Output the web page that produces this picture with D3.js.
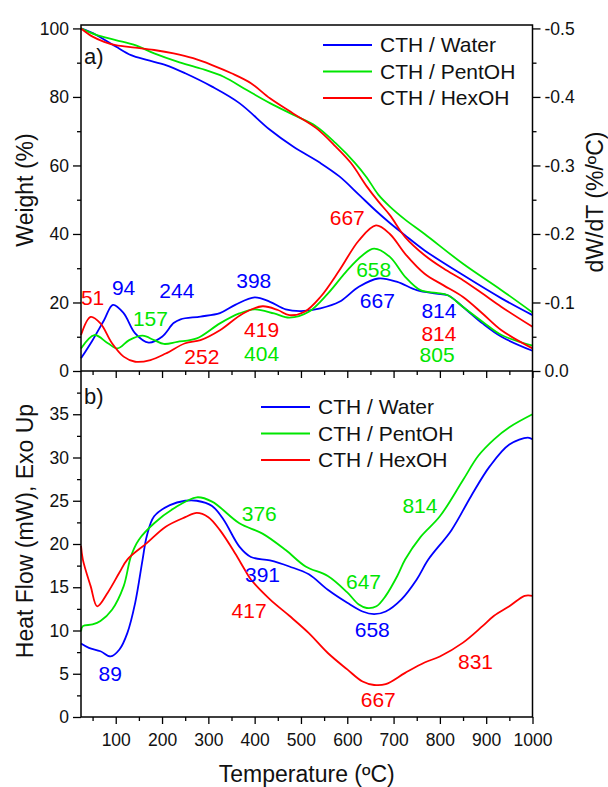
<!DOCTYPE html>
<html><head><meta charset="utf-8">
<script src="https://cdn.jsdelivr.net/npm/d3@7/dist/d3.min.js"></script>
<style>
body{margin:0;background:#fff}
svg{display:block}
text{font-family:"Liberation Sans",Arial,Helvetica,sans-serif;fill:#111}
</style>
</head><body>
<svg id="chart" width="608" height="787"></svg>
<script>
// ---- Series names and colours ----
const seriesNames = ["CTH / Water", "CTH / PentOH", "CTH / HexOH"];
const seriesColors = ["#0000ff", "#00e600", "#ff0000"];

// ---- TG: weight (%) vs temperature (°C) ----
const tgWater = [[25,100],[58,98.1],[100,94.7],[133,92.2],[167,90.8],[208,89.3],[250,86.9],[308,83],[367,78.2],[433,70.4],[483,65.5],[542,60.7],[583,56.8],[625,51.5],[660,47],[692,43.2],[725,39.6],[767,35.2],[850,28],[933,21.2],[1000,16.3]];
const tgPentOH = [[25,100],[58,98.1],[100,96.6],[142,95.1],[183,92.7],[233,90.3],[283,88.3],[333,85.9],[383,82],[433,78.2],[483,74.8],[533,71.4],[575,66.5],[617,60.7],[642,56.5],[667,51.5],[692,48],[725,44.2],[767,40],[850,31.3],[933,23.6],[1000,17.1]];
const tgHexOH = [[25,100],[50,97.6],[75,96.1],[100,95.1],[142,94.4],[183,93.7],[225,92.7],[267,91.3],[308,89.3],[350,86.9],[392,84],[433,79.6],[483,75.2],[533,70.9],[575,65.5],[608,60.7],[642,53.9],[667,49.5],[692,45.5],[725,39.1],[767,33.8],[808,29.9],[850,26.5],[892,22.6],[933,18.7],[1000,12.9]];

// ---- DTG: dW/dT (%/°C) vs temperature (°C) ----
const dtgWater = [[25,-0.0185],[50,-0.045],[75,-0.0745],[94,-0.0965],[117,-0.0845],[142,-0.055],[171,-0.0415],[200,-0.05],[225,-0.07],[240,-0.0755],[283,-0.0795],[325,-0.0845],[358,-0.0965],[400,-0.1075],[433,-0.101],[467,-0.09],[500,-0.0875],[542,-0.0915],[583,-0.101],[625,-0.123],[667,-0.135],[708,-0.13],[750,-0.118],[792,-0.113],[817,-0.1105],[850,-0.0935],[892,-0.0695],[933,-0.05],[1000,-0.0295]];
const dtgPentOH = [[25,-0.033],[54,-0.0525],[83,-0.0405],[104,-0.033],[129,-0.045],[158,-0.0515],[183,-0.045],[204,-0.0395],[233,-0.0425],[275,-0.0475],[325,-0.0695],[367,-0.084],[400,-0.09],[442,-0.084],[475,-0.078],[517,-0.0865],[558,-0.113],[600,-0.147],[633,-0.169],[658,-0.1785],[692,-0.1665],[725,-0.1375],[758,-0.118],[792,-0.114],[817,-0.1105],[850,-0.0935],[892,-0.072],[933,-0.0525],[1000,-0.037]];
const dtgHexOH = [[25,-0.0525],[46,-0.079],[67,-0.0695],[92,-0.0405],[117,-0.021],[142,-0.0135],[175,-0.016],[208,-0.0255],[250,-0.0405],[283,-0.045],[325,-0.0595],[375,-0.084],[417,-0.0945],[450,-0.089],[475,-0.0815],[508,-0.0865],[542,-0.108],[583,-0.147],[625,-0.1905],[662,-0.2125],[692,-0.2],[725,-0.171],[767,-0.142],[808,-0.125],[850,-0.108],[892,-0.084],[933,-0.0595],[1000,-0.033]];

// ---- DSC: heat flow (mW), exo up ----
const dscWater = [[25,8.5],[42,8],[67,7.6],[89,7],[108,7.8],[125,9.7],[142,13.2],[158,18.2],[167,20.9],[183,23.2],[217,24.5],[250,25],[275,25],[308,24.4],[333,22.8],[367,19.7],[392,18.5],[433,18.1],[475,17.4],[517,16.5],[558,14.7],[600,13.2],[633,12.2],[658,11.9],[683,12.2],[717,13.6],[750,15.9],[775,18.2],[825,21.6],[867,25.5],[908,29],[950,31.5],[990,32.3],[1000,32.1]];
const dscPentOH = [[25,9.9],[29,10.5],[50,10.7],[67,11.1],[92,12.4],[117,15.1],[133,18.6],[150,20.5],[183,22.4],[225,24.1],[275,25.4],[308,24.9],[367,22.4],[417,21.2],[467,19.3],[510,17.4],[558,16.3],[600,14.4],[625,13],[642,12.6],[663,12.8],[683,14],[708,16.3],[725,18.2],[758,20.8],[800,23.2],[850,27.4],[883,30.2],[917,32.1],[950,33.5],[1000,35]];
const dscHexOH = [[25,19.8],[29,18.2],[46,15.1],[60,12.8],[83,14.4],[108,16.7],[125,18.2],[167,20.1],[208,22],[250,23.1],[275,23.6],[300,23.1],[325,21.6],[358,18.9],[379,17],[392,15.9],[433,13.6],[475,11.7],[517,9.7],[558,7.4],[600,5.5],[633,4.1],[658,3.7],[683,3.8],[725,5.1],[767,6.3],[800,7],[850,8.6],[892,10.5],[917,11.7],[950,12.8],[983,14],[1000,14]];

// ---- Tick values ----
const xTicks = [100,200,300,400,500,600,700,800,900,1000];
const xMinor = [50,150,250,350,450,550,650,750,850,950];
const wTicks = [0,20,40,60,80,100];
const wMinor = [10,30,50,70,90];
const dTicks = [0,-0.1,-0.2,-0.3,-0.4,-0.5];
const dMinor = [-0.05,-0.15,-0.25,-0.35,-0.45];
const hTicks = [0,5,10,15,20,25,30,35];
const hMinor = [2.5,7.5,12.5,17.5,22.5,27.5,32.5,37.5];

// ---- Peak annotations: [text, temperature, value on the panel's left axis, series index] ----
const tgLabels = [["51",50,19.2,2],["94",117,22.1,0],["244",232,21.2,0],["157",175,13.2,1],["398",398,24.1,0],["419",415,9.8,2],["252",286,2,2],["404",415,2.9,1],["667",600,42.5,2],["658",657,27.5,1],["667",665,18.3,0],["814",798,15.6,0],["814",798,8.7,2],["805",794,2.5,1]];
const dscLabels = [["376",410,22.7,1],["814",757,23.6,1],["391",417,15.6,0],["647",635,14.8,1],["417",388,11.4,2],["658",654,9.2,0],["89",88,4.2,0],["831",877,5.6,2],["667",667,1.2,2]];

const svg = d3.select("#chart");
const L = 81, R = 532.5, T1 = 25, B1 = 371, B2 = 717;

const x  = d3.scaleLinear().domain([25,1000]).range([L,R]);
const yW = d3.scaleLinear().domain([0,101]).range([B1,T1]);
const yD = d3.scaleLinear().domain([0,-0.505]).range([B1,T1]);
const yH = d3.scaleLinear().domain([0,40]).range([B2,B1]);

const curve = d3.curveCatmullRom.alpha(0.5);
function drawLine(data, y, color){
  svg.append("path").datum(data)
    .attr("fill","none").attr("stroke",color).attr("stroke-width",1.8)
    .attr("stroke-linejoin","round")
    .attr("d", d3.line().x(d=>x(d[0])).y(d=>y(d[1])).curve(curve));
}

// curves
[dtgWater,dtgPentOH,dtgHexOH].forEach((s,i)=>drawLine(s,yD,seriesColors[i]));
[tgWater,tgPentOH,tgHexOH].forEach((s,i)=>drawLine(s,yW,seriesColors[i]));
[dscWater,dscPentOH,dscHexOH].forEach((s,i)=>drawLine(s,yH,seriesColors[i]));

// axes helpers
function axis(gen, scale, vals, size, fmt, tx, ty, fs){
  const g = svg.append("g").attr("transform",`translate(${tx},${ty})`)
    .call(gen(scale).tickValues(vals).tickSizeInner(size).tickSizeOuter(0).tickPadding(4).tickFormat(fmt));
  g.select(".domain").remove();
  g.selectAll(".tick line").attr("stroke","#000").attr("stroke-width",1.3);
  g.selectAll(".tick text").attr("font-size",fs||17.5).attr("fill","#111")
    .style("font-family",'"Liberation Sans",Arial,sans-serif');
  return g;
}
const none = ()=>"";
// top panel
axis(d3.axisLeft, yW, wTicks, 8, d3.format("d"), L, 0);
axis(d3.axisLeft, yW, wMinor, 4, none, L, 0);
axis(d3.axisRight, yD, dTicks, 8, d=>d===0?"0.0":d3.format(".1f")(d).replace("−","-"), R, 0);
axis(d3.axisRight, yD, dMinor, 4, none, R, 0);
axis(d3.axisBottom, x, xTicks, 7, none, 0, B1);
axis(d3.axisBottom, x, xMinor, 4, none, 0, B1);
// bottom panel
axis(d3.axisLeft, yH, hTicks, 8, d3.format("d"), L, 0);
axis(d3.axisLeft, yH, hMinor, 4, none, L, 0);
const gx = axis(d3.axisBottom, x, xTicks, 7, d3.format("d"), 0, B2);
gx.selectAll(".tick text").attr("dy","1.05em");
axis(d3.axisBottom, x, xMinor, 4, none, 0, B2);

// frames
svg.append("rect").attr("x",L).attr("y",T1).attr("width",R-L).attr("height",B1-T1)
  .attr("fill","none").attr("stroke","#000").attr("stroke-width",1.5);
svg.append("path").attr("d",`M${L},${B1}V${B2}H${R}V${B1}`)
  .attr("fill","none").attr("stroke","#000").attr("stroke-width",1.5);

// axis titles
const title = (txt, tx, ty, rot, fs) => svg.append("text")
  .attr("transform",`translate(${tx},${ty}) rotate(${rot})`)
  .attr("text-anchor","middle").attr("font-size",fs).text(txt);
title("Weight (%)", 33, 190, -90, 23);
title("dW/dT (%/ºC)", 603, 202, -90, 23);
title("Heat Flow (mW), Exo Up", 33, 531, -90, 23);
title("Temperature (ºC)", (L+R)/2, 782, 0, 23);

// panel letters
svg.append("text").attr("x",84).attr("y",64).attr("font-size",22).text("a)");
svg.append("text").attr("x",84).attr("y",404).attr("font-size",22).text("b)");

// peak labels
function labels(list, y){
  list.forEach(([t,tx,v,c])=>{
    svg.append("text").attr("x",x(tx)).attr("y",y(v))
      .attr("text-anchor","middle").attr("font-size",21)
      .style("fill",seriesColors[c]).text(t);
  });
}
labels(tgLabels, yW);
labels(dscLabels, yH);

// legends
function legend(lx, ty){
  seriesNames.forEach((n,i)=>{
    const yy = ty + i*26.5;
    svg.append("line").attr("x1",lx).attr("x2",lx+49).attr("y1",yy).attr("y2",yy)
      .attr("stroke",seriesColors[i]).attr("stroke-width",1.8);
    svg.append("text").attr("x",lx+57).attr("y",yy).attr("dy","0.35em")
      .attr("font-size",21).text(n);
  });
}
legend(323, 45);
legend(261, 407);
</script>
</body></html>
